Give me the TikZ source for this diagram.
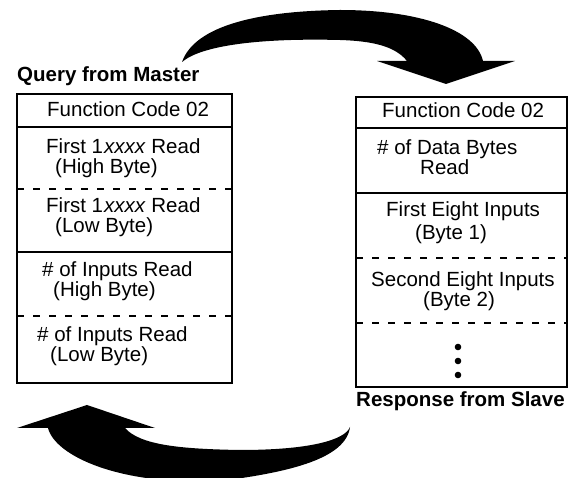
\documentclass[tikz,border=0pt]{standalone}
\usepackage{fontspec}
\setmainfont{Liberation Sans}
\begin{document}
\begin{tikzpicture}[x=1pt,y=-1pt,
  frame/.style={line width=1.2pt},
  rowsep/.style={line width=1.1pt},
  dashsep/.style={line width=1.1pt,dash pattern=on 7pt off 9pt},
  txt/.style={anchor=base west,inner sep=0pt,font=\fontsize{20.5}{24}\selectfont},
  title/.style={txt,font=\fontsize{20.5}{24}\selectfont\bfseries},
  bigarrow/.style={fill=black,draw=none}]
\useasboundingbox (0,0) rectangle (571,478);

% ---------- query frame ----------
\node[title] (qtitle) at (17,82) {Query from Master};
\draw[frame] (17,94) rectangle (232,383);
\draw[rowsep] (17,127) -- (232,127);
\draw[dashsep] (17,189) -- (232,189);
\draw[rowsep] (17,252) -- (232,252);
\draw[dashsep] (17,316) -- (232,316);

\node[txt] (qfc)  at (47,117) {Function Code 02};
\node[txt] (qhi1) at (46,154) {First 1\kern1pt\textit{xxxx} Read};
\node[txt] (qhi2) at (55,174) {(High Byte)};
\node[txt] (qlo1) at (46,213) {First 1\kern1pt\textit{xxxx} Read};
\node[txt] (qlo2) at (55,233) {(Low Byte)};
\node[txt] (qnh1) at (42,277) {\# of Inputs Read};
\node[txt] (qnh2) at (53,297) {(High Byte)};
\node[txt] (qnl1) at (37,342) {\# of Inputs Read};
\node[txt] (qnl2) at (50,362) {(Low Byte)};

% ---------- response frame ----------
\draw[frame] (356,97) rectangle (567,387);
\draw[rowsep] (356,128) -- (567,128);
\draw[rowsep] (356,193) -- (567,193);
\draw[dashsep] (356,258) -- (567,258);
\draw[dashsep] (356,323) -- (567,323);

\node[txt] (rfc)  at (382,118) {Function Code 02};
\node[txt] (rdb1) at (377,155) {\# of Data Bytes};
\node[txt] (rdb2) at (420,175) {Read};
\node[txt] (rb11) at (386,217) {First Eight Inputs};
\node[txt] (rb12) at (415,240) {(Byte 1)};
\node[txt] (rb21) at (371,287) {Second Eight Inputs};
\node[txt] (rb22) at (423,307) {(Byte 2)};
\foreach \yy in {347,361,375} \fill (458,\yy) circle (3.3pt);
\node[title] (rtitle) at (356,407) {Response from Slave};

% ---------- upper curved arrow: query to response ----------
\fill[bigarrow] (182,62)
  .. controls (195,25) and (260,11) .. (340,10)
  .. controls (420,10) and (476,30) .. (483,61)
  -- (515,61) -- (446,84) -- (377,61) -- (407,61)
  .. controls (395,46) and (372,41) .. (340,40)
  .. controls (262,38) and (202,45) .. (182,62) -- cycle;

% ---------- lower curved arrow: response back to query ----------
\fill[bigarrow] (350,427)
  .. controls (346,458) and (292,472) .. (220,481)
  .. controls (120,486) and (55,456) .. (48,428)
  -- (17,428) -- (87,405) -- (155,428) -- (125,428)
  .. controls (140,445) and (180,449) .. (240,450)
  .. controls (310,450) and (345,440) .. (350,427) -- cycle;
\end{tikzpicture}
\end{document}
